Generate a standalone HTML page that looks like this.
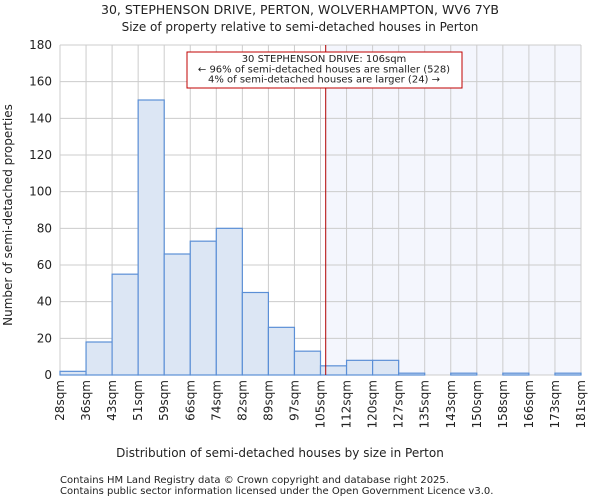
<!DOCTYPE html>
<html><head><meta charset="utf-8"><style>
body{margin:0;background:#fff;font-family:"DejaVu Sans","Liberation Sans",sans-serif;}
svg text{font-family:"DejaVu Sans","Liberation Sans",sans-serif;fill:#222;}
</style></head><body>
<svg id="c" width="600" height="500" xmlns="http://www.w3.org/2000/svg">
<text x="300" y="14" font-size="12.5" text-anchor="middle">30, STEPHENSON DRIVE, PERTON, WOLVERHAMPTON, WV6 7YB</text>
<text x="300" y="31" font-size="12" text-anchor="middle">Size of property relative to semi-detached houses in Perton</text>
<g id="plot"></g>
<text x="280" y="457" font-size="12" text-anchor="middle">Distribution of semi-detached houses by size in Perton</text>
<text transform="translate(12,215) rotate(-90)" font-size="12" text-anchor="middle">Number of semi-detached properties</text>
<text x="60" y="483" font-size="10" fill="#444">Contains HM Land Registry data © Crown copyright and database right 2025.</text>
<text x="60" y="494" font-size="10" fill="#444">Contains public sector information licensed under the Open Government Licence v3.0.</text>
</svg>
<script>
const labels=["28sqm","36sqm","43sqm","51sqm","59sqm","66sqm","74sqm","82sqm","89sqm","97sqm","105sqm","112sqm","120sqm","127sqm","135sqm","143sqm","150sqm","158sqm","166sqm","173sqm","181sqm"];
const counts=[2,18,55,150,66,73,80,45,26,13,5,8,8,1,0,1,0,1,0,1];
const yTicks=[0,20,40,60,80,100,120,140,160,180];
const markerBin=10.2;
const NS="http://www.w3.org/2000/svg";
const g=document.getElementById('plot');
const x0=60,x1=581,y0=375,y1=45,yMax=180;
const bw=(x1-x0)/counts.length;
const X=i=>x0+i*bw;
const Y=v=>y0-(v/yMax)*(y0-y1);
function el(t,a){const e=document.createElementNS(NS,t);for(const k in a)e.setAttribute(k,a[k]);g.appendChild(e);return e;}
const mx=X(markerBin);
let r=el('rect',{x:mx,y:y1,width:x1-mx,height:y0-y1,fill:'#f4f6fd'});


labels.forEach((l,i)=>{
 const ln=el('line',{x1:X(i),x2:X(i),y1:y1,y2:y0,stroke:'#ccc','stroke-width':1});
 
 
 const t=el('text',{transform:`translate(${X(i)+4},380) rotate(-90)`,'font-size':12,'text-anchor':'end'});
 t.textContent=l;
 
 
});
yTicks.forEach(v=>{
 const ln=el('line',{x1:x0,x2:x1,y1:Y(v),y2:Y(v),stroke:'#ccc','stroke-width':1});
 
 
 const t=el('text',{x:x0-8,y:Y(v)+4,'font-size':12,'text-anchor':'end'});
 t.textContent=v;
 
 
});
counts.forEach((c,i)=>{
 if(c<=0)return;
 const b=el('rect',{x:X(i),y:Y(c),width:bw,height:y0-Y(c),fill:'#dce6f4',stroke:'#5b8fd6','stroke-width':1.2});
 
 
});
const ml=el('line',{x1:mx,x2:mx,y1:y1,y2:y0,stroke:'#b00000','stroke-width':1});


const box=el('rect',{x:187,y:52,width:275,height:36,fill:'#fff',stroke:'#c00000','stroke-width':1});


["30 STEPHENSON DRIVE: 106sqm","← 96% of semi-detached houses are smaller (528)","4% of semi-detached houses are larger (24) →"].forEach((s,i)=>{
 const t=el('text',{x:324,y:62+i*10.3,'font-size':10,'text-anchor':'middle'});
 t.textContent=s;
 
 
});
</script>
</body></html>
